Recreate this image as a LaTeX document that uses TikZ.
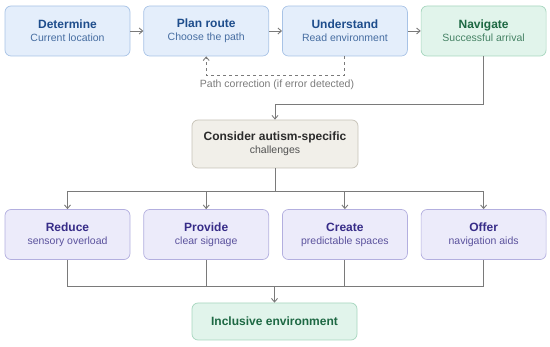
\documentclass[tikz,border=0pt]{standalone}
\usepackage{fontspec}
\setmainfont{Liberation Sans}
\usepackage{xcolor}
\usetikzlibrary{arrows.meta,positioning}
\definecolor{stepBlueFill}{HTML}{E4EEFB}
\definecolor{stepBlueLine}{HTML}{A8C3E6}
\definecolor{stepBlueText}{HTML}{1E4D8C}
\definecolor{stepGreenFill}{HTML}{E1F4EB}
\definecolor{stepGreenLine}{HTML}{A6D6BE}
\definecolor{stepGreenText}{HTML}{1D6843}
\definecolor{stepSandFill}{HTML}{F1EFE9}
\definecolor{stepSandLine}{HTML}{C6C2B7}
\definecolor{stepSandText}{HTML}{2B2B2B}
\definecolor{stepPurpleFill}{HTML}{ECEBFA}
\definecolor{stepPurpleLine}{HTML}{B3AFDF}
\definecolor{stepPurpleText}{HTML}{372C88}
\definecolor{linkGray}{HTML}{7A7A7A}

\newcommand{\boxtext}[2]{{\fontsize{12}{14}\selectfont\bfseries #1}\\[1pt]{\fontsize{10.5}{12}\selectfont\color{.!82!white}#2}}

\begin{document}
\begin{tikzpicture}[x=1pt,y=1pt,node distance=13pt,
  stepbox/.style={draw,rounded corners=6pt,line width=0.7pt,minimum width=125pt,minimum height=50pt,align=center,inner sep=2pt},
  bluebox/.style={stepbox,fill=stepBlueFill,draw=stepBlueLine,text=stepBlueText},
  greenbox/.style={stepbox,fill=stepGreenFill,draw=stepGreenLine,text=stepGreenText},
  purplebox/.style={stepbox,fill=stepPurpleFill,draw=stepPurpleLine,text=stepPurpleText},
  link/.style={draw=linkGray,line width=0.9pt},
  >={Straight Barb[length=3.5pt,width=6pt]}]
\useasboundingbox (0,0) rectangle (550,-347);
% top row
\node[bluebox] (determine) at (67.5,-31) {\boxtext{Determine}{Current location}};
\node[bluebox,right=of determine] (plan) {\boxtext{Plan route}{Choose the path}};
\node[bluebox,right=of plan] (understand) {\boxtext{Understand}{Read environment}};
\node[greenbox,right=of understand] (navigate) {\boxtext{Navigate}{Successful arrival}};
\draw[link,->] (determine) -- (plan);
\draw[link,->] (plan) -- (understand);
\draw[link,->] (understand) -- (navigate);
\draw[link,dashed,->] (understand.south) -- ++(0,-19) coordinate (back) -| (plan.south);
\node[text=linkGray,font=\fontsize{10.5}{12}\selectfont] (backlabel) at (277,-85) {Path correction (if error detected)};
% middle
\node[stepbox,fill=stepSandFill,draw=stepSandLine,text=stepSandText,minimum width=166pt,minimum height=48pt] (consider) at (275,-144) {\boxtext{Consider autism-specific}{challenges}};
\draw[link,->] (navigate.south) -- ++(0,-48) -| (consider.north);
% bottom row
\node[purplebox] (reduce) at (67.5,-234.5) {\boxtext{Reduce}{sensory overload}};
\node[purplebox,right=of reduce] (provide) {\boxtext{Provide}{clear signage}};
\node[purplebox,right=of provide] (create) {\boxtext{Create}{predictable spaces}};
\node[purplebox,right=of create] (offer) {\boxtext{Offer}{navigation aids}};
\draw[link] (consider.south) -- ++(0,-23) coordinate (split);
\draw[link] (reduce.north |- split) -- (offer.north |- split);
\foreach \n in {reduce,provide,create,offer}
  \draw[link,->] (\n.north |- split) -- (\n.north);
% result
\node[greenbox,minimum width=165pt,minimum height=37pt,font=\fontsize{12}{14}\selectfont\bfseries] (inclusive) at (274.5,-321.5) {Inclusive environment};
\draw[link] (reduce.south) -- ++(0,-27) coordinate (join);
\draw[link] (reduce.south |- join) -- (offer.south |- join);
\foreach \n in {provide,create,offer}
  \draw[link] (\n.south) -- (\n.south |- join);
\draw[link,->] (inclusive.north |- join) -- (inclusive.north);
\end{tikzpicture}
\end{document}
